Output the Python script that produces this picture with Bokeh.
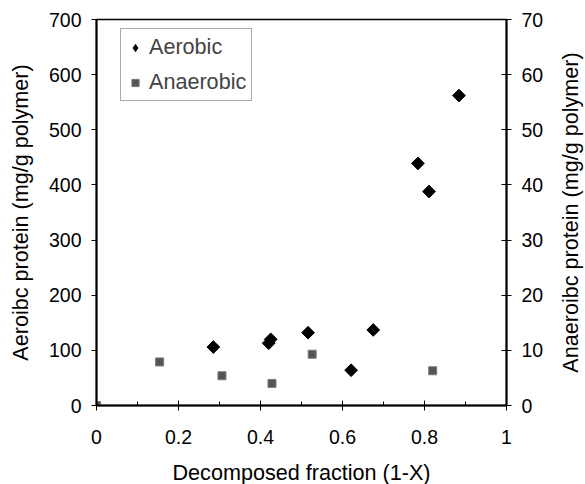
import math
from bokeh.plotting import figure
from bokeh.layouts import row, column
from bokeh.models import Range1d, LinearAxis, FixedTicker, Legend, LegendItem, Title
from bokeh.embed import file_html
from bokeh.resources import INLINE

# Data
aerobic_x = [0.285, 0.420, 0.425, 0.516, 0.621, 0.675, 0.784, 0.811, 0.884]
aerobic_y = [106, 113, 120, 132, 64, 137, 439, 388, 562]

anaerobic_x = [0.0, 0.154, 0.306, 0.428, 0.526, 0.820]
anaerobic_y = [0.0, 7.9, 5.4, 4.0, 9.3, 6.3]

x_ticks = [0, 0.2, 0.4, 0.6, 0.8, 1]
x_minor = [0.1, 0.3, 0.5, 0.7, 0.9]
x_tick_labels = ["0", "0.2", "0.4", "0.6", "0.8", "1"]
left_ticks = [0, 100, 200, 300, 400, 500, 600, 700]
right_ticks = [0, 10, 20, 30, 40, 50, 60, 70]

x_title = "Decomposed fraction (1-X)"
left_title = "Aeroibc protein (mg/g polymer)"
right_title = "Anaeroibc protein (mg/g polymer)"

FONT = "Liberation Sans"
TOP_H = 455

p = figure(width=555, height=TOP_H, output_backend="svg", toolbar_location=None, title=None,
           x_range=Range1d(0, 1), y_range=Range1d(0, 700),
           min_border_left=96, min_border_right=49, min_border_top=19, min_border_bottom=50)
p.extra_y_ranges = {"right": Range1d(0, 70)}

p.xgrid.visible = False
p.ygrid.visible = False
p.outline_line_color = "black"
p.outline_line_width = 1.5
p.background_fill_color = "white"
p.border_fill_color = "white"

xa = p.xaxis[0]
xa.ticker = FixedTicker(ticks=x_ticks, minor_ticks=x_minor)
xa.major_label_overrides = {t: l for t, l in zip(x_ticks, x_tick_labels)}

ya = p.yaxis[0]
ya.ticker = FixedTicker(ticks=left_ticks)
ya.axis_label = left_title

ra = LinearAxis(y_range_name="right")
ra.ticker = FixedTicker(ticks=right_ticks)
p.add_layout(ra, "right")

for ax in [xa, ya, ra]:
    ax.axis_line_color = "black"
    ax.axis_line_width = 2
    ax.major_tick_line_color = "black"
    ax.minor_tick_line_color = "black"
    ax.major_label_text_font = FONT
    ax.major_label_text_font_size = "19.5px"
    ax.major_label_text_color = "black"
    ax.axis_label_text_font = FONT
    ax.axis_label_text_font_size = "21.6px"
    ax.axis_label_text_font_style = "normal"
    ax.axis_label_text_color = "black"

xa.major_tick_in = 5
xa.major_tick_out = 5
xa.minor_tick_in = 4
xa.minor_tick_out = 0
xa.major_label_standoff = 19

ya.major_tick_in = 0
ya.major_tick_out = 5
ya.minor_tick_line_color = None
ya.major_label_standoff = 10
ya.axis_label_standoff = 13

ra.major_tick_in = 5
ra.major_tick_out = 5
ra.minor_tick_line_color = None
ra.major_label_standoff = 10

r_aer = p.scatter(aerobic_x, aerobic_y, marker="square", angle=math.pi / 4, size=9,
                  fill_color="black", line_color="black")
r_ana = p.scatter(anaerobic_x, anaerobic_y, y_range_name="right", marker="square", size=8,
                  fill_color="#555555", line_color="#7a7a7a", line_width=1)
# legend-only glyph, placed outside the visible range
r_aer_leg = p.scatter([-5], [-5000], marker="diamond", size=13,
                      fill_color="black", line_color="black")

legend = Legend(items=[LegendItem(label="Aerobic", renderers=[r_aer_leg]),
                       LegendItem(label="Anaerobic", renderers=[r_ana])],
                location=(24, 304))
legend.label_text_font = FONT
legend.label_text_font_size = "21.6px"
legend.label_height = 25
legend.glyph_height = 25
legend.glyph_width = 18
legend.spacing = 9
legend.padding = 5
legend.margin = 0
legend.label_standoff = 5
legend.border_line_color = "#555555"
legend.border_line_width = 1
legend.background_fill_alpha = 1
p.add_layout(legend, "center")

# narrow strip carrying the right-hand axis title (reads bottom to top)
q = figure(width=30, height=TOP_H, output_backend="svg", toolbar_location=None, title=None,
           x_axis_location=None, y_axis_location=None,
           min_border_left=0, min_border_right=0, min_border_top=19, min_border_bottom=50)
q.xgrid.visible = False
q.ygrid.visible = False
q.outline_line_color = None
q.border_fill_color = "white"
q.background_fill_color = "white"
q.add_layout(Title(text=right_title, align="center", text_font=FONT,
                   text_font_size="21.6px", text_font_style="normal",
                   text_color="black", standoff=0, offset=0), "left")

# strip below carrying the x-axis title
b = figure(width=585, height=484 - TOP_H, output_backend="svg", toolbar_location=None,
           title=None, x_axis_location=None, y_axis_location=None,
           min_border_left=96, min_border_right=79, min_border_top=0, min_border_bottom=0)
b.xgrid.visible = False
b.ygrid.visible = False
b.outline_line_color = None
b.border_fill_color = "white"
b.background_fill_color = "white"
b.add_layout(Title(text=x_title, align="center", text_font=FONT,
                   text_font_size="21.6px", text_font_style="normal",
                   text_color="black", standoff=0, offset=0), "below")

layout = column(row(p, q, spacing=0), b, spacing=0)
open("out.html", "w").write(file_html(layout, INLINE))
